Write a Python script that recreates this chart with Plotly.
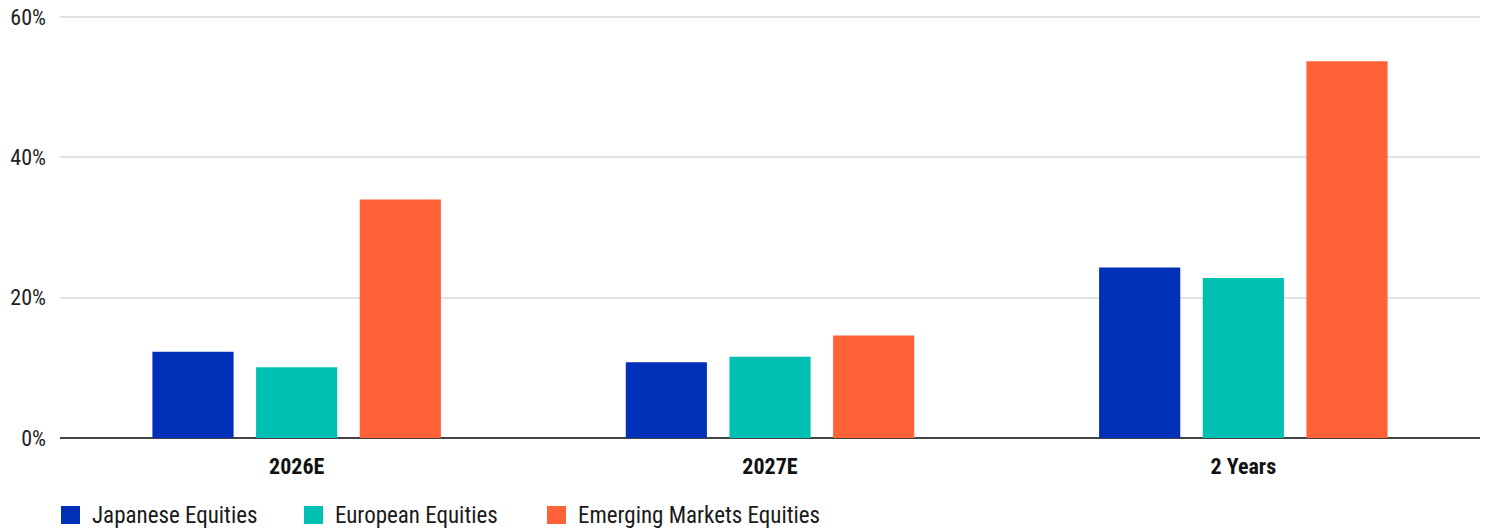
import plotly.graph_objects as go

categories = ["2026E", "2027E", "2 Years"]
series_names = ["Japanese Equities", "European Equities", "Emerging Markets Equities"]
japanese = [12.3, 10.8, 24.3]
european = [10.1, 11.6, 22.8]
emerging = [34.0, 14.6, 53.7]
colors = ["#0030B7", "#00BFB3", "#FF6138"]
y_ticks = [0, 20, 40, 60]
y_tick_labels = ["0%", "20%", "40%", "60%"]

FONT = "'Liberation Sans Narrow', 'Arial Narrow', 'Roboto Condensed', Roboto, sans-serif"

W, H = 1490, 532
ML, MR, MT, MB = 60, 10, 15, 94
PW, PH = W - ML - MR, H - MT - MB

fig = go.Figure()
for name, vals, col in zip(series_names, [japanese, european, emerging], colors):
    fig.add_trace(go.Bar(x=categories, y=vals, name=name, marker=dict(color=col, line=dict(width=0)),
                         showlegend=False))

# manual legend (square swatches + labels)
legend_x = [61, 304, 547]
sq = 19
ly_top, ly_bot = 506, 524
for px, name, col in zip(legend_x, series_names, colors):
    fig.add_shape(type="rect", xref="paper", yref="paper",
                  x0=(px - ML) / PW, x1=(px + sq - ML) / PW,
                  y0=(H - MB - ly_bot) / PH, y1=(H - MB - ly_top) / PH,
                  fillcolor=col, line=dict(width=0), layer="above")
    fig.add_annotation(xref="paper", yref="paper", x=(px + 30 - ML) / PW,
                       y=(H - MB - (ly_top + ly_bot) / 2) / PH,
                       text=name, showarrow=False, xanchor="left", yanchor="middle",
                       borderpad=0,
                       font=dict(family=FONT, size=23, color="#1a1a1a"))

fig.update_layout(
    width=W, height=H,
    margin=dict(l=ML, r=MR, t=MT, b=MB, autoexpand=False),
    paper_bgcolor="white", plot_bgcolor="white",
    barmode="group", bargap=0.343, bargroupgap=0.217,
    font=dict(family=FONT, size=22, color="#1a1a1a"),
    xaxis=dict(showgrid=False, showline=False, ticks="", automargin=False,
               tickfont=dict(family=FONT, size=22, color="#111", weight="bold"),
               ticklabelstandoff=13),
    yaxis=dict(range=[0, 60.3], tickvals=y_ticks, ticktext=y_tick_labels, automargin=False,
               showgrid=True, gridcolor="#e2e2e2", gridwidth=2,
               zeroline=True, zerolinecolor="#444444", zerolinewidth=2,
               showline=False, ticks="", ticklabelstandoff=13,
               tickfont=dict(family=FONT, size=22, color="#222")),
)

fig.write_html("out.html")
